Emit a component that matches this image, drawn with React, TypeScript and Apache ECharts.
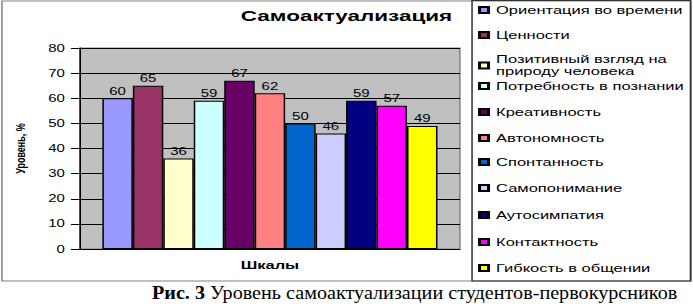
import React, { useEffect, useRef } from "react";
import * as echarts from "echarts";

// The original picture is stretched horizontally; reproduce that with a CSS scaleX.
const S = 1.5;
const W = 693 / S;
const H = 307;

const categories = [""];
const seriesNames = [
  "Ориентация во времени",
  "Ценности",
  "Позитивный взгляд на\nприроду человека",
  "Потребность в познании",
  "Креативность",
  "Автономность",
  "Спонтанность",
  "Самопонимание",
  "Аутосимпатия",
  "Контактность",
  "Гибкость в общении",
];
const values = [60, 65, 36, 59, 67, 62, 50, 46, 59, 57, 49];
const colors = [
  "#9999FF",
  "#993366",
  "#FFFFCC",
  "#CCFFFF",
  "#660066",
  "#FF8080",
  "#0066CC",
  "#CCCCFF",
  "#000080",
  "#FF00FF",
  "#FFFF00",
];
const legendCenters = [10, 35, 65.5, 86, 112, 138, 162, 188, 215, 242, 268];
const yMin = 0;
const yMax = 80;
const yInterval = 10;

const titleText = "Самоактуализация";
const xName = "Шкалы";
const yName = "Уровень, %";
const captionBold = "Рис. 3";
const captionRest = " Уровень самоактуализации студентов-первокурсников";

export default function App() {
  const ref = useRef<HTMLDivElement>(null);
  useEffect(() => {
    const chart = echarts.init(ref.current!, null, { renderer: "svg" });
    const font = "Arial, 'Liberation Sans', sans-serif";
    const legends = seriesNames.map((n, i) => {
      const twoLine = n.includes("\n");
      const lh = twoLine ? 12 : 13;
      const h = twoLine ? 24 : 13;
      return {
        orient: "vertical",
        left: 318.7,
        top: legendCenters[i] - h / 2,
        padding: 0,
        itemWidth: 6,
        itemHeight: 6,
        icon: "rect",
        selectedMode: false,
        data: [n],
        textStyle: { fontFamily: font, fontSize: 11, color: "#000", lineHeight: lh },
      };
    });
    chart.setOption({
      animation: false,
      backgroundColor: "#fff",
      textStyle: { fontFamily: font },
      title: {
        text: titleText,
        left: "center",
        top: 8.5,
        padding: 0,
        textStyle: { fontFamily: font, fontSize: 15, fontWeight: "bold", color: "#000" },
      },
      legend: legends,
      grid: {
        left: 53.3,
        top: 48,
        width: 253.3,
        height: 201,
        show: true,
        backgroundColor: "#C0C0C0",
        borderColor: "#808080",
        borderWidth: 1,
        containLabel: false,
      },
      xAxis: {
        type: "category",
        data: categories,
        name: xName,
        nameLocation: "middle",
        nameGap: 11,
        nameTextStyle: { fontFamily: font, fontSize: 11, fontWeight: "bold", color: "#000" },
        axisLine: { show: true, lineStyle: { color: "#000", width: 1 } },
        axisTick: { show: false },
        axisLabel: { show: false },
        splitLine: { show: false },
      },
      yAxis: {
        type: "value",
        min: yMin,
        max: yMax,
        interval: yInterval,
        name: yName,
        nameLocation: "middle",
        nameRotate: 90,
        nameGap: 35,
        nameTextStyle: { fontFamily: font, fontSize: 9, fontWeight: "bold", color: "#000" },
        axisLine: { show: true, lineStyle: { color: "#000", width: 1 } },
        axisTick: { show: true, length: 6, lineStyle: { color: "#000" } },
        axisLabel: { fontFamily: font, fontSize: 10, color: "#000", margin: 10 },
        splitLine: { show: true, lineStyle: { color: "#000", width: 1 } },
      },
      series: seriesNames.map((n, i) => ({
        name: n,
        type: "bar",
        data: [values[i]],
        barGap: "0%",
        barCategoryGap: "11.8%",
        itemStyle: { color: colors[i], borderColor: "#000", borderWidth: 1 },
        label: {
          show: true,
          position: "top",
          distance: 2,
          fontFamily: font,
          fontSize: 10,
          color: "#000",
        },
      })),
      graphic: [
        {
          type: "rect",
          shape: { x: 1.3, y: 1, width: 459.4, height: 280 },
          style: { fill: "none", stroke: "#808080", lineWidth: 1 },
          silent: true,
          z: 100,
        },
        {
          type: "rect",
          shape: { x: 314.7, y: 0.5, width: 145.6, height: 280.5 },
          style: { fill: "none", stroke: "#333", lineWidth: 1 },
          silent: true,
          z: 100,
        },
        {
          type: "text",
          x: 101.3,
          y: 293,
          scaleX: 1.12 / S,
          style: {
            text: "{b|" + captionBold + "}" + captionRest,
            fontFamily: "'Liberation Serif', 'Times New Roman', serif",
            fontSize: 18,
            fill: "#000",
            verticalAlign: "middle",
            rich: {
              b: {
                fontFamily: "'Liberation Serif', 'Times New Roman', serif",
                fontSize: 18,
                fontWeight: "bold",
                fill: "#000",
              },
            },
          },
          silent: true,
        },
      ],
    });
    return () => chart.dispose();
  }, []);
  return (
    <div
      style={{
        position: "fixed",
        left: 0,
        top: 0,
        width: 693,
        height: H,
        overflow: "hidden",
        background: "#fff",
      }}
    >
      <div
        ref={ref}
        style={{ width: W, height: H, transform: `scaleX(${S})`, transformOrigin: "0 0" }}
      />
    </div>
  );
}
